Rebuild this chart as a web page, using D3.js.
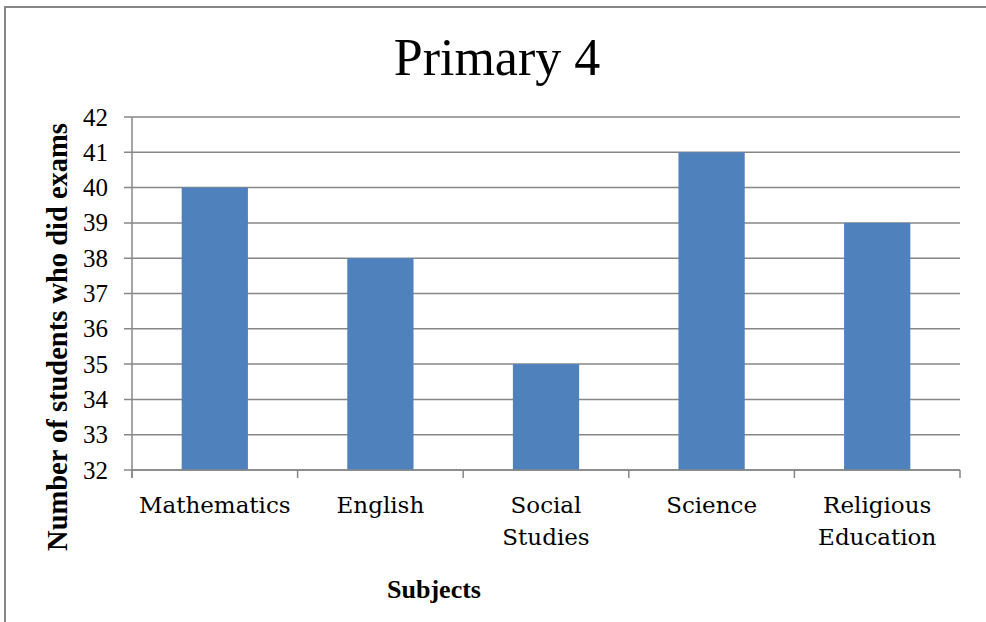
<!DOCTYPE html>
<html><head><meta charset="utf-8">
<script src="https://cdn.jsdelivr.net/npm/d3@7"></script>
<style>html,body{margin:0;padding:0;background:#fff;}svg{display:block;}</style>
</head><body>
<svg id="c" width="986" height="622"></svg>
<script>
const categories = ["Mathematics", "English", "Social Studies", "Science", "Religious Education"];
const categoryLines = [["Mathematics"], ["English"], ["Social", "Studies"], ["Science"], ["Religious", "Education"]];
const values = [40, 38, 35, 41, 39];
const yTicks = [32, 33, 34, 35, 36, 37, 38, 39, 40, 41, 42];
const title = "Primary 4";
const xTitle = "Subjects";
const yTitle = "Number of students who did exams";

const svg = d3.select("#c");
const pLeft = 132, pRight = 960, pTop = 117, pBottom = 470;
const grid = "#878787";

svg.append("rect").attr("x", 5).attr("y", 7).attr("width", 1000).attr("height", 700)
  .attr("fill", "#fff").attr("stroke", "#868686").attr("stroke-width", 2);

const x = d3.scaleBand().domain(categories).range([pLeft, pRight]).paddingInner(0.6).paddingOuter(0.3);
const y = d3.scaleLinear().domain([32, 42]).range([pBottom, pTop]);

// gridlines
svg.append("g").selectAll("line").data(yTicks).join("line")
  .attr("x1", pLeft - 8).attr("x2", pRight)
  .attr("y1", d => y(d)).attr("y2", d => y(d))
  .attr("stroke", grid).attr("stroke-width", 1.5);

// bars
svg.append("g").selectAll("rect").data(values).join("rect")
  .attr("x", (d, i) => x(categories[i]))
  .attr("width", x.bandwidth())
  .attr("y", d => y(d))
  .attr("height", d => y(32) - y(d))
  .attr("fill", "#4f81bd");

// y axis line
svg.append("line").attr("x1", pLeft).attr("x2", pLeft).attr("y1", pTop).attr("y2", pBottom + 8)
  .attr("stroke", grid).attr("stroke-width", 1.5);
// x axis line
svg.append("line").attr("x1", pLeft).attr("x2", pRight).attr("y1", pBottom).attr("y2", pBottom)
  .attr("stroke", grid).attr("stroke-width", 1.5);
// x ticks at category boundaries
const bounds = d3.range(categories.length + 1).map(i => pLeft + i * (pRight - pLeft) / categories.length);
svg.append("g").selectAll("line").data(bounds).join("line")
  .attr("x1", d => d).attr("x2", d => d).attr("y1", pBottom).attr("y2", pBottom + 8)
  .attr("stroke", grid).attr("stroke-width", 1.5);

// y tick labels
svg.append("g").selectAll("text").data(yTicks).join("text")
  .attr("x", 108).attr("y", d => y(d)).attr("dy", "0.34em")
  .attr("text-anchor", "end")
  .attr("font-family", "Liberation Serif").attr("font-size", 25).attr("fill", "#000")
  .text(d => d);

// x category labels
const cg = svg.append("g");
categoryLines.forEach((lines, i) => {
  const cx = x(categories[i]) + x.bandwidth() / 2;
  lines.forEach((ln, j) => {
    cg.append("text").attr("x", cx).attr("y", 513 + j * 32)
      .attr("text-anchor", "middle")
      .attr("font-family", "DejaVu Serif").attr("font-size", 23).attr("fill", "#000")
      .text(ln);
  });
});

// title
svg.append("text").attr("x", 497).attr("y", 75).attr("text-anchor", "middle")
  .attr("font-family", "Liberation Serif").attr("font-size", 52).attr("fill", "#000")
  .text(title);

// x title
svg.append("text").attr("x", 434).attr("y", 598).attr("text-anchor", "middle")
  .attr("font-family", "Liberation Serif").attr("font-weight", "bold").attr("font-size", 26).attr("fill", "#000")
  .text(xTitle);

// y title
svg.append("text").attr("transform", "translate(67,337) rotate(-90)")
  .attr("text-anchor", "middle")
  .attr("font-family", "Liberation Serif").attr("font-weight", "bold").attr("font-size", 28.5).attr("fill", "#000")
  .text(yTitle);
</script>
</body></html>
